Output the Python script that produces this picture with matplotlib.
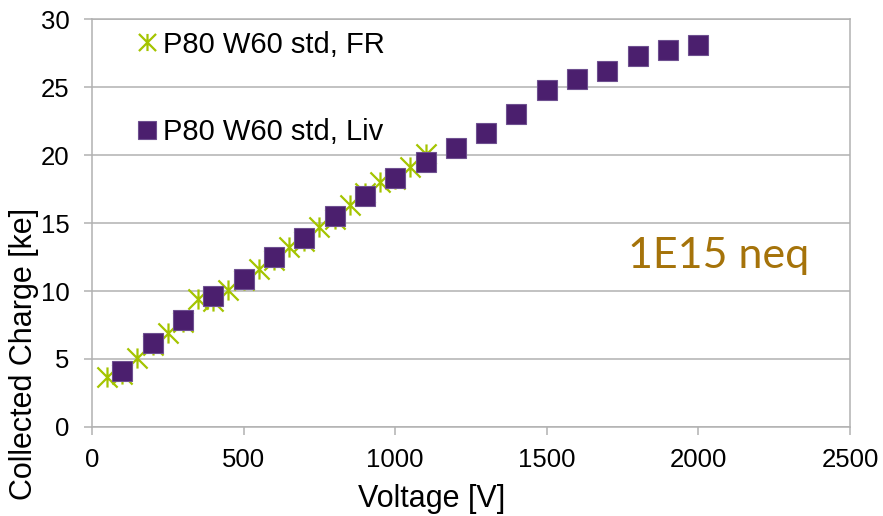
import matplotlib
matplotlib.use("Agg")
import matplotlib.pyplot as plt
from matplotlib.path import Path

# ---- data ----
fr_voltage = [50, 100, 150, 200, 250, 300, 350, 400, 450, 500, 550, 600,
              650, 700, 750, 800, 850, 900, 950, 1000, 1050, 1100]
fr_charge = [3.7, 3.9, 5.1, 6.0, 6.9, 7.7, 9.4, 9.3, 10.1, 10.8, 11.6, 12.3,
             13.2, 13.7, 14.7, 15.3, 16.3, 17.2, 18.0, 18.2, 19.1, 20.1]

liv_voltage = [100, 200, 300, 400, 500, 600, 700, 800, 900, 1000,
               1100, 1200, 1300, 1400, 1500, 1600, 1700, 1800, 1900, 2000]
liv_charge = [4.1, 6.2, 7.9, 9.6, 10.9, 12.5, 13.9, 15.5, 17.0, 18.3,
              19.5, 20.5, 21.6, 23.0, 24.8, 25.6, 26.2, 27.3, 27.7, 28.1]

series_labels = ["P80 W60 std, FR", "P80 W60 std, Liv"]
x_ticks = [0, 500, 1000, 1500, 2000, 2500]
y_ticks = [0, 5, 10, 15, 20, 25, 30]
x_label = "Voltage [V]"
y_label = "Collected Charge [ke]"
annotation = "1E15 neq"

# ---- style ----
plt.rcParams['font.family'] = ['Liberation Sans', 'DejaVu Sans']
grid_col = '#B2B2B2'
star_col = '#A4C400'
sq_face = '#4B1F6E'
sq_edge = '#6E5090'

W, H = 883, 516
fig = plt.figure(figsize=(W / 100, H / 100), dpi=100)
ax = fig.add_axes([92 / W, 1 - 427 / H, (850 - 92) / W, (427 - 19) / H])

star = Path([(0, -1), (0, 1), (-1, -1), (1, 1), (-1, 1), (1, -1)],
            [Path.MOVETO, Path.LINETO, Path.MOVETO, Path.LINETO,
             Path.MOVETO, Path.LINETO])

ax.plot(fr_voltage, fr_charge, linestyle='none', marker=star, markersize=14.5,
        markeredgewidth=1.6, color=star_col, label=series_labels[0], zorder=3)
ax.plot(liv_voltage, liv_charge, linestyle='none', marker='s', markersize=14.5,
        markerfacecolor=sq_face, markeredgecolor=sq_edge, markeredgewidth=0.8,
        label=series_labels[1], zorder=4)

ax.set_xlim(0, 2500)
ax.set_ylim(0, 30)
ax.set_xticks(x_ticks)
ax.set_yticks(y_ticks)
ax.yaxis.grid(True, color=grid_col, linewidth=1.1)
ax.set_axisbelow(True)
for s in ax.spines.values():
    s.set_color(grid_col)
    s.set_linewidth(1.1)
ax.tick_params(axis='both', direction='out', length=6, width=1.1,
               color=grid_col, labelsize=18.5, labelcolor='black')
ax.tick_params(axis='x', pad=9)
ax.tick_params(axis='y', pad=10)

fig.text(432 / W, 1 - 507 / H, x_label, ha='center', va='baseline', fontsize=22)
fig.text(24 / W, 1 - 354 / H, y_label, ha='center', va='center',
         rotation=90, fontsize=22)

ax.text(2067, 12.6, annotation, ha='center', va='center', fontsize=31,
        color='#A5730A', family=['Lato', 'DejaVu Sans'])

leg = ax.legend(loc='upper left', bbox_to_anchor=(0.046, 1.0), frameon=False,
                fontsize=21, labelspacing=2.03, handlelength=0.6,
                handletextpad=0.25, markerscale=0.85, borderaxespad=0)

fig.savefig('out.png', dpi=100)
